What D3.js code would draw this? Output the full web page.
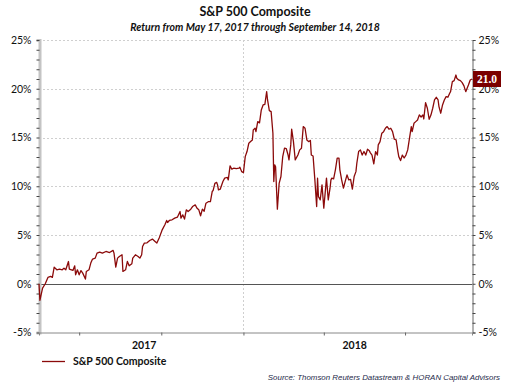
<!DOCTYPE html>
<html>
<head>
<meta charset="utf-8">
<script src="https://cdn.jsdelivr.net/npm/d3@7"></script>
<style>
  body { margin: 0; background: #fff; }
  svg { display: block; font-family: Lato, "Liberation Sans", sans-serif; }
</style>
</head>
<body>
<svg id="canvas"></svg>
<script>
// S&P 500 return since May 17, 2017
let dates = [
  "2017-05-17","2017-05-18","2017-05-19","2017-05-21","2017-05-24","2017-05-27","2017-05-30","2017-06-01",
  "2017-06-03","2017-06-06","2017-06-09","2017-06-12","2017-06-14","2017-06-16","2017-06-19","2017-06-20",
  "2017-06-24","2017-06-26","2017-06-27","2017-06-29","2017-07-01","2017-07-03","2017-07-05","2017-07-08",
  "2017-07-09","2017-07-12","2017-07-14","2017-07-16","2017-07-19","2017-07-21","2017-07-24","2017-07-27",
  "2017-07-31","2017-08-04","2017-08-08","2017-08-09","2017-08-11","2017-08-13","2017-08-15","2017-08-18",
  "2017-08-19","2017-08-22","2017-08-24","2017-08-26","2017-08-29","2017-08-30","2017-09-02","2017-09-05",
  "2017-09-07","2017-09-09","2017-09-10","2017-09-12","2017-09-15","2017-09-18","2017-09-21","2017-09-24",
  "2017-09-26","2017-09-29","2017-10-02","2017-10-05","2017-10-07","2017-10-08","2017-10-10","2017-10-13",
  "2017-10-16","2017-10-19","2017-10-22","2017-10-23","2017-10-25","2017-10-27","2017-10-29","2017-10-31",
  "2017-11-03","2017-11-05","2017-11-08","2017-11-10","2017-11-12","2017-11-14","2017-11-16","2017-11-18",
  "2017-11-20","2017-11-23","2017-11-25","2017-11-27","2017-11-28","2017-11-30","2017-12-02","2017-12-03",
  "2017-12-04","2017-12-06","2017-12-09","2017-12-11","2017-12-14","2017-12-15","2017-12-17","2017-12-19",
  "2017-12-21","2017-12-24","2017-12-27","2017-12-28","2017-12-30","2018-01-01","2018-01-03","2018-01-05",
  "2018-01-07","2018-01-09","2018-01-11","2018-01-12","2018-01-14","2018-01-15","2018-01-17","2018-01-19",
  "2018-01-21","2018-01-23","2018-01-25","2018-01-27","2018-01-28","2018-01-30","2018-02-01","2018-02-03",
  "2018-02-04","2018-02-05","2018-02-06","2018-02-08","2018-02-10","2018-02-12","2018-02-14","2018-02-16",
  "2018-02-18","2018-02-20","2018-02-21","2018-02-23","2018-02-24","2018-02-26","2018-02-28","2018-03-03",
  "2018-03-05","2018-03-07","2018-03-09","2018-03-11","2018-03-13","2018-03-15","2018-03-17","2018-03-18",
  "2018-03-20","2018-03-22","2018-03-24","2018-03-25","2018-03-26","2018-03-28","2018-03-30","2018-04-01",
  "2018-04-03","2018-04-04","2018-04-06","2018-04-08","2018-04-09","2018-04-10","2018-04-12","2018-04-14",
  "2018-04-16","2018-04-18","2018-04-19","2018-04-21","2018-04-23","2018-04-25","2018-04-27","2018-04-29",
  "2018-05-01","2018-05-03","2018-05-05","2018-05-07","2018-05-08","2018-05-10","2018-05-12","2018-05-14",
  "2018-05-16","2018-05-18","2018-05-20","2018-05-22","2018-05-23","2018-05-25","2018-05-27","2018-05-29",
  "2018-05-31","2018-06-01","2018-06-03","2018-06-05","2018-06-07","2018-06-09","2018-06-11","2018-06-13",
  "2018-06-15","2018-06-17","2018-06-19","2018-06-21","2018-06-23","2018-06-24","2018-06-26","2018-06-28",
  "2018-06-30","2018-07-02","2018-07-04","2018-07-06","2018-07-08","2018-07-09","2018-07-11","2018-07-13",
  "2018-07-15","2018-07-17","2018-07-19","2018-07-21","2018-07-22","2018-07-24","2018-07-26","2018-07-28",
  "2018-07-30","2018-08-01","2018-08-03","2018-08-05","2018-08-07","2018-08-08","2018-08-10","2018-08-12",
  "2018-08-14","2018-08-16","2018-08-18","2018-08-20","2018-08-21","2018-08-23","2018-08-25","2018-08-27",
  "2018-08-28","2018-08-30","2018-09-01","2018-09-03","2018-09-05","2018-09-07","2018-09-08","2018-09-10",
  "2018-09-12","2018-09-14"
]

let returns = [
  0.0, -1.7, -1.3, -0.45, 0.0, 0.65, 0.75, 0.65,
  1.7, 1.43, 1.5, 1.43, 1.6, 1.43, 2.28, 1.5,
  1.37, 1.84, 0.92, 1.43, 0.92, 1.35, 1.09, 0.48,
  1.26, 1.43, 2.12, 2.53, 2.63, 3.14, 3.25, 3.14,
  3.31, 3.2, 3.42, 3.14, 1.71, 2.63, 2.8, 2.97,
  1.26, 1.43, 2.29, 1.84, 2.05, 2.63, 2.97, 2.8,
  2.63, 2.97, 3.82, 4.17, 4.2, 4.44, 4.58, 4.33,
  4.17, 4.78, 5.53, 6.05, 6.49, 6.28, 6.49, 6.56,
  6.73, 6.83, 7.41, 6.73, 7.07, 6.63, 7.58, 7.41,
  7.65, 7.92, 8.09, 7.75, 7.58, 6.97, 7.65, 7.44,
  8.26, 8.43, 8.43, 9.46, 9.56, 10.3, 10.4, 10.14,
  9.63, 9.7, 10.48, 10.83, 10.9, 10.65, 12.09, 11.75,
  11.85, 11.8, 11.85, 11.95, 11.5, 11.4, 13.04, 13.56,
  14.41, 14.58, 14.75, 15.78, 15.95, 15.6, 16.63, 16.5,
  17.83, 18.34, 18.4, 19.7, 18.85, 17.76, 17.65, 15.44,
  10.48, 12.19, 12.0, 7.65, 10.3, 11.0, 13.04, 13.9,
  13.85, 13.2, 12.7, 14.24, 15.85, 14.58, 12.7, 13.2,
  13.73, 13.9, 16.12, 15.95, 14.75, 14.58, 14.7, 13.2,
  13.1, 10.65, 7.92, 10.83, 8.95, 8.6, 10.14, 7.75,
  9.8, 10.83, 8.6, 9.8, 10.65, 10.83, 10.75, 11.68,
  12.88, 12.88, 11.68, 10.65, 9.8, 10.5, 11.17, 10.65,
  10.7, 9.7, 11.0, 11.5, 12.36, 13.56, 13.73, 13.2,
  13.56, 13.2, 13.8, 13.65, 13.45, 13.2, 12.3, 13.56,
  13.2, 14.24, 14.58, 15.44, 15.6, 15.95, 16.12, 15.85,
  15.95, 15.6, 14.82, 14.75, 13.56, 13.04, 12.63, 13.2,
  12.9, 13.2, 13.73, 14.93, 16.12, 15.6, 16.46, 16.63,
  16.8, 17.32, 17.1, 17.32, 16.9, 18.58, 18.0, 16.87,
  17.3, 18.0, 18.85, 19.13, 18.85, 18.17, 17.49, 18.34,
  18.85, 19.19, 19.13, 19.54, 19.7, 20.73, 20.83, 21.41,
  21.07, 20.9, 20.83, 20.63, 20.29, 19.7, 19.93, 20.39,
  20.9, 21.0
]

let yTicks = [-5, 0, 5, 10, 15, 20, 25]
let yearLabels = ["2017", "2018"]
let lastLabel = "21.0"

let titleText = "S&P 500 Composite"
let subtitleText = "Return from May 17, 2017 through September 14, 2018"
let legendText = "S&P 500 Composite"
let sourceText = "Source: Thomson Reuters Datastream & HORAN Capital Advisors"

let width = 510
let height = 382
let lineColor = "#8b0a0a"

let canvas = d3.select("#canvas")
canvas.attr("width", width)
      .attr("height", height)

let parseDate = d3.timeParse("%Y-%m-%d")
let series = dates.map((d, i) => ({ date: parseDate(d), value: returns[i] }))

let startDate = parseDate("2017-05-17")
let endDate = parseDate("2018-09-14")
let yearSplit = parseDate("2018-01-01")

let xScale = d3.scaleTime()
               .domain([startDate, endDate])
               .range([39, 472])

let yScale = d3.scaleLinear()
               .domain([-5, 25])
               .range([332.5, 40])

// dotted horizontal gridlines (not on 0 and -5, those are solid)
canvas.append("g")
      .selectAll("line")
      .data(yTicks.filter(t => t > 0))
      .enter().append("line")
      .attr("x1", 39).attr("x2", 472)
      .attr("y1", t => Math.round(yScale(t)) + 0.5)
      .attr("y2", t => Math.round(yScale(t)) + 0.5)
      .attr("stroke", "#cfcfcf")
      .attr("stroke-dasharray", "2,2")

// dotted vertical line at the turn of the year
canvas.append("line")
      .attr("x1", Math.round(xScale(yearSplit)) + 0.5)
      .attr("x2", Math.round(xScale(yearSplit)) + 0.5)
      .attr("y1", 40).attr("y2", 332)
      .attr("stroke", "#cfcfcf")
      .attr("stroke-dasharray", "2,2")

// zero line
canvas.append("line")
      .attr("x1", 39).attr("x2", 472)
      .attr("y1", Math.round(yScale(0)) + 0.5)
      .attr("y2", Math.round(yScale(0)) + 0.5)
      .attr("stroke", "#555")

// left axis: thick grey bar with small ticks every 1%
let leftAxis = d3.axisLeft(yScale)
                 .tickValues(d3.range(-5, 26, 1))
                 .tickSize(3)
                 .tickFormat(t => yTicks.includes(t) ? t + "%" : "")
canvas.append("g")
      .attr("transform", "translate(39.5,0)")
      .call(leftAxis)
      .call(g => g.select(".domain").attr("stroke", "#c4c4c4").attr("stroke-width", 3))
      .call(g => g.selectAll(".tick line").attr("stroke", "#444"))
      .call(g => g.selectAll("text").attr("x", -8).attr("fill", "#111")
                  .style("font-size", "10.5px").style("font-family", "Lato, sans-serif"))

let rightAxis = d3.axisRight(yScale)
                  .tickValues(d3.range(-5, 26, 1))
                  .tickSize(3)
                  .tickFormat(t => yTicks.includes(t) ? t + "%" : "")
canvas.append("g")
      .attr("transform", "translate(472.5,0)")
      .call(rightAxis)
      .call(g => g.select(".domain").attr("stroke", "#666"))
      .call(g => g.selectAll(".tick line").attr("stroke", "#444"))
      .call(g => g.selectAll("text").attr("x", 6).attr("fill", "#111")
                  .style("font-size", "10.5px").style("font-family", "Lato, sans-serif"))

// bottom axis with quarterly ticks, year labels are drawn separately
let bottomAxis = d3.axisBottom(xScale)
                   .tickValues(d3.timeMonth.every(3).range(startDate, endDate))
                   .tickSize(3)
                   .tickFormat("")
canvas.append("g")
      .attr("transform", "translate(0,332.5)")
      .call(bottomAxis)
      .call(g => g.select(".domain").attr("stroke", "#888"))
      .call(g => g.selectAll(".tick line").attr("stroke", "#666"))

let yearCenters = [
  xScale(new Date((startDate.getTime() + yearSplit.getTime()) / 2)) + 3,
  xScale(new Date((yearSplit.getTime() + endDate.getTime()) / 2)) - 3
]
canvas.selectAll(".year")
      .data(yearLabels)
      .enter().append("text")
      .attr("class", "year")
      .attr("x", (d, i) => yearCenters[i])
      .attr("y", 349)
      .attr("text-anchor", "middle")
      .style("font-size", "10.5px")
      .style("font-weight", "bold")
      .attr("fill", "#111")
      .text(d => d)

// the series
let line = d3.line()
             .x(d => xScale(d.date))
             .y(d => yScale(d.value))
canvas.append("path")
      .datum(series)
      .attr("d", line)
      .attr("fill", "none")
      .attr("stroke", lineColor)
      .attr("stroke-width", 1.3)
      .attr("stroke-linejoin", "round")

// last value tag on the right axis (sits over the 20% label like the original)
let lastPoint = series[series.length - 1]
canvas.append("rect")
      .attr("x", 473)
      .attr("y", yScale(lastPoint.value) - 8)
      .attr("width", 28)
      .attr("height", 16)
      .attr("fill", "#7a0000")
canvas.append("text")
      .attr("x", 487)
      .attr("y", yScale(lastPoint.value) + 4)
      .attr("text-anchor", "middle")
      .attr("fill", "#fff")
      .style("font-family", "'Liberation Serif', serif")
      .style("font-weight", "bold")
      .style("font-size", "11.5px")
      .text(lastLabel)

// titles
canvas.append("text")
      .attr("x", 255).attr("y", 16)
      .attr("text-anchor", "middle")
      .style("font-size", "12.5px")
      .style("font-weight", "bold")
      .attr("fill", "#111")
      .text(titleText)

canvas.append("text")
      .attr("x", 255).attr("y", 31)
      .attr("text-anchor", "middle")
      .style("font-size", "10.5px")
      .style("font-weight", "bold")
      .style("font-style", "italic")
      .attr("fill", "#111")
      .text(subtitleText)

// legend
canvas.append("line")
      .attr("x1", 42).attr("x2", 65)
      .attr("y1", 361.5).attr("y2", 361.5)
      .attr("stroke", lineColor)
      .attr("stroke-width", 1.3)
canvas.append("text")
      .attr("x", 73).attr("y", 365)
      .style("font-size", "10.5px")
      .style("font-weight", "bold")
      .attr("fill", "#111")
      .text(legendText)

canvas.append("text")
      .attr("x", 500).attr("y", 380)
      .attr("text-anchor", "end")
      .style("font-family", "'Liberation Sans', Arial, sans-serif")
      .style("font-size", "7.9px")
      .style("font-style", "italic")
      .attr("fill", "#1e2a4a")
      .text(sourceText)
</script>
</body>
</html>
